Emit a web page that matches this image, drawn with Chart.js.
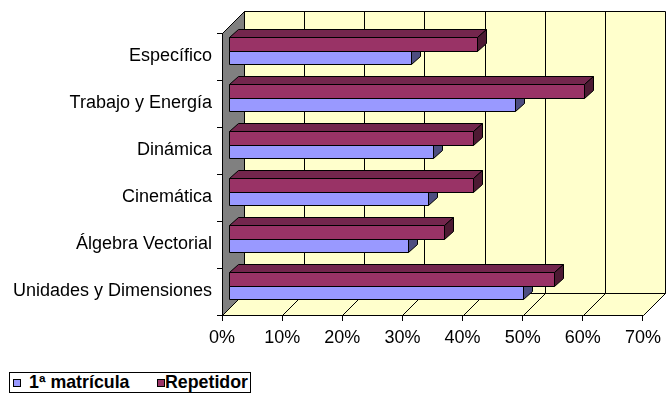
<!DOCTYPE html>
<html>
<head>
<meta charset="utf-8">
<script src="https://cdn.jsdelivr.net/npm/chart.js@4.4.1/dist/chart.umd.min.js"></script>
<style>
  html, body { margin: 0; padding: 0; background: #fff; }
  #wrap { position: relative; width: 667px; height: 394px; overflow: hidden; }
  #c { position: absolute; left: 0; top: 0; }
  #legend { position: absolute; left: 9px; top: 372px; width: 242px; height: 21px;
            border: 1px solid #000; box-sizing: border-box; background: #fff;
            font: bold 17.8px "Liberation Sans", Arial, sans-serif; color: #000; }
  #legend span { position: absolute; white-space: nowrap; }
  #legend .sw { width: 8px; height: 8px; border: 1px solid #000; box-sizing: border-box; top: 6px; }
  #legend .tx { top: -1px; line-height: 20px; }
</style>
</head>
<body>
<div id="wrap">
  <canvas id="c" width="667" height="394"></canvas>
  <div id="legend">
    <span class="sw" style="left:3px;background:#9999FF"></span>
    <span class="tx" style="left:19px">1ª matrícula</span>
    <span class="sw" style="left:147px;background:#993366"></span>
    <span class="tx" style="left:155px">Repetidor</span>
  </div>
</div>
<script>
// Topics of the course and the share of students per group (percent)
const categories = ['Específico', 'Trabajo y Energía', 'Dinámica', 'Cinemática', 'Álgebra Vectorial', 'Unidades y Dimensiones'];
const primeraMatricula = [30.4, 47.8, 34.1, 33.2, 30.0, 49.1];
const repetidor = [41.4, 59.2, 40.7, 40.7, 35.9, 54.2];
const xTickValues = [0, 10, 20, 30, 40, 50, 60, 70];

const FONT = '"Liberation Sans", Arial, sans-serif';
const DEPTH = 22;      // depth of the 3-D box (walls and floor)
const BAR_OFF = 6;     // how far the bars sit behind the front plane
const BAR_DX = 9, BAR_DY = 8; // thickness of each bar in depth

const px = v => Math.round(v) + 0.5;

function poly(ctx, pts, fill, stroke) {
  ctx.beginPath();
  ctx.moveTo(pts[0][0], pts[0][1]);
  for (let i = 1; i < pts.length; i++) ctx.lineTo(pts[i][0], pts[i][1]);
  ctx.closePath();
  if (fill) { ctx.fillStyle = fill; ctx.fill(); }
  if (stroke) { ctx.strokeStyle = stroke; ctx.lineWidth = 1; ctx.stroke(); }
}

// Back wall, floor and left wall of the 3-D frame
const frame3d = {
  id: 'frame3d',
  beforeDraw(chart) {
    const { ctx, chartArea: a, scales: { x } } = chart;
    const L = px(a.left), R = px(a.right), T = px(a.top), B = px(a.bottom);
    ctx.save();
    ctx.fillStyle = '#fff';
    ctx.fillRect(0, 0, chart.width, chart.height);
    // back wall
    poly(ctx, [[L + DEPTH, T - DEPTH], [R + DEPTH, T - DEPTH], [R + DEPTH, B - DEPTH], [L + DEPTH, B - DEPTH]], '#FFFFCC', '#000');
    // floor
    poly(ctx, [[L, B], [R, B], [R + DEPTH, B - DEPTH], [L + DEPTH, B - DEPTH]], '#FFFFCC', '#000');
    // gridlines on wall and floor
    ctx.strokeStyle = '#000';
    ctx.lineWidth = 1;
    xTickValues.slice(1, -1).forEach(v => {
      const gx = px(x.getPixelForValue(v));
      ctx.beginPath();
      ctx.moveTo(gx + DEPTH, T - DEPTH);
      ctx.lineTo(gx + DEPTH, B - DEPTH);
      ctx.moveTo(gx, B);
      ctx.lineTo(gx + DEPTH, B - DEPTH);
      ctx.stroke();
    });
    // left side wall
    poly(ctx, [[L, T], [L + DEPTH, T - DEPTH], [L + DEPTH, B - DEPTH], [L, B]], '#808080', '#000');
    ctx.restore();
  }
};

// Bars drawn as boxes from the positions computed by the chart
const bars3d = {
  id: 'bars3d',
  afterDatasetsDraw(chart) {
    const { ctx } = chart;
    const shades = [
      { front: '#993366', top: '#73264D', side: '#4D1A33' },
      { front: '#9999FF', top: '#7373BF', side: '#4D4D80' }
    ];
    ctx.save();
    for (let i = 0; i < categories.length; i++) {
      for (const di of [1, 0]) {
        const el = chart.getDatasetMeta(di).data[i];
        const p = el.getProps(['x', 'y', 'base', 'height'], true);
        const c = shades[di];
        const x0 = px(p.base + BAR_OFF), x1 = px(p.x + BAR_OFF);
        const y0 = px(p.y - p.height / 2 - BAR_OFF), y1 = px(p.y + p.height / 2 - BAR_OFF);
        poly(ctx, [[x0, y0], [x1, y0], [x1 + BAR_DX, y0 - BAR_DY], [x0 + BAR_DX, y0 - BAR_DY]], c.top, '#000');
        poly(ctx, [[x1, y0], [x1 + BAR_DX, y0 - BAR_DY], [x1 + BAR_DX, y1 - BAR_DY], [x1, y1]], c.side, '#000');
        poly(ctx, [[x0, y0], [x1, y0], [x1, y1], [x0, y1]], c.front, '#000');
      }
    }
    ctx.restore();
  }
};

new Chart(document.getElementById('c'), {
  type: 'bar',
  data: {
    labels: categories,
    datasets: [
      { label: 'Repetidor', data: repetidor, backgroundColor: 'rgba(0,0,0,0)', borderWidth: 0 },
      { label: '1ª matrícula', data: primeraMatricula, backgroundColor: 'rgba(0,0,0,0)', borderWidth: 0 }
    ]
  },
  options: {
    indexAxis: 'y',
    responsive: false,
    animation: false,
    devicePixelRatio: 1,
    events: [],
    layout: { padding: { top: 33, right: 17, left: 0, bottom: 0 } },
    datasets: { bar: { categoryPercentage: 0.58, barPercentage: 1 } },
    plugins: { legend: { display: false }, tooltip: { enabled: false } },
    scales: {
      x: {
        type: 'linear',
        min: 0, max: 70,
        afterBuildTicks(s) { s.ticks = xTickValues.map(v => ({ value: v })); },
        ticks: { callback: v => v + '%', color: '#000', font: { family: FONT, size: 18 }, padding: 6, maxRotation: 0, autoSkip: false },
        grid: { drawOnChartArea: false, drawTicks: true, tickLength: 6, color: '#000' },
        border: { display: true, color: '#000' },
        afterFit(s) { s.height = 79; }
      },
      y: {
        ticks: { color: '#000', font: { family: FONT, size: 18 }, padding: 5, autoSkip: false },
        grid: { drawOnChartArea: false, drawTicks: true, tickLength: 5, color: '#000', offset: true },
        border: { display: true, color: '#000' },
        afterFit(s) { s.width = 222; }
      }
    }
  },
  plugins: [frame3d, bars3d]
});
</script>
</body>
</html>
